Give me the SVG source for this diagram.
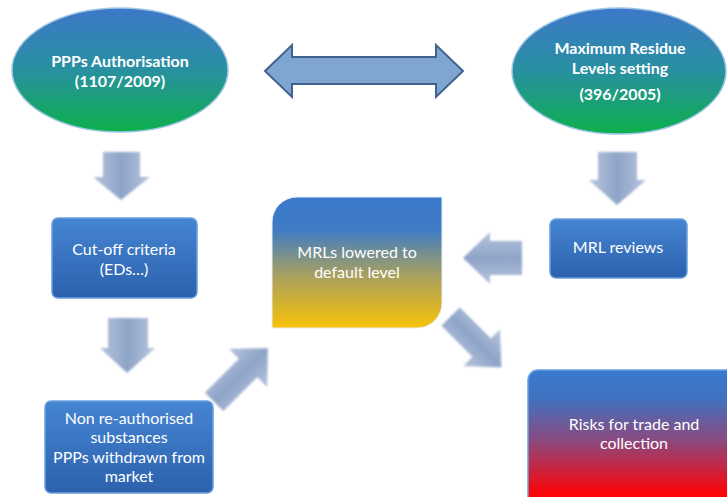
<svg xmlns="http://www.w3.org/2000/svg" width="727" height="497" viewBox="0 0 727 497">
<defs>
<linearGradient id="gEll" x1="0" y1="0" x2="0" y2="1">
<stop offset="0" stop-color="#3d78c9"/><stop offset="0.5" stop-color="#2890a0"/><stop offset="1" stop-color="#0db04c"/>
</linearGradient>
<linearGradient id="gBox" x1="0" y1="0" x2="0" y2="1">
<stop offset="0" stop-color="#4585d2"/><stop offset="1" stop-color="#2c61ad"/>
</linearGradient>
<linearGradient id="gMrl" x1="0" y1="0" x2="0" y2="1">
<stop offset="0" stop-color="#3a78cc"/><stop offset="0.25" stop-color="#3f7cc4"/><stop offset="0.6" stop-color="#a8a060"/><stop offset="1" stop-color="#f8c208"/>
</linearGradient>
<linearGradient id="gRisk" x1="0" y1="0" x2="0" y2="1">
<stop offset="0" stop-color="#3a7ad0"/><stop offset="0.2" stop-color="#3f72c0"/><stop offset="0.5" stop-color="#8a4a80"/><stop offset="0.88" stop-color="#fc0408"/><stop offset="1" stop-color="#ff0000"/>
</linearGradient>
<linearGradient id="gArr" x1="0" y1="0" x2="1" y2="0">
<stop offset="0" stop-color="#b8c4dc"/><stop offset="0.5" stop-color="#8ea4c8"/><stop offset="1" stop-color="#b8c4dc"/>
</linearGradient>
<linearGradient id="gArrV" x1="0" y1="0" x2="0" y2="1">
<stop offset="0" stop-color="#b8c4dc"/><stop offset="0.5" stop-color="#8ea4c8"/><stop offset="1" stop-color="#b8c4dc"/>
</linearGradient>
<filter id="soft" x="-20%" y="-20%" width="140%" height="140%"><feGaussianBlur stdDeviation="0.8"/></filter>
</defs>
<style>
.t{font-family:"Lato","Liberation Sans",sans-serif;fill:#ffffff;text-anchor:middle}
.b{font-weight:bold;font-size:16px}
.r{font-size:16px}
.ell{fill:url(#gEll);stroke:#9cc4e4;stroke-width:1.5}
.box{fill:url(#gBox);stroke:#6aa0e0;stroke-width:1.5}
.fz{fill:url(#gArr);filter:url(#soft)}
.fzv{fill:url(#gArrV);filter:url(#soft)}
</style>

<g id="connectors">
<polygon points="265,71 292,45 292,57 436,57 436,45 463,71 436,97 436,84 292,84 292,97" fill="#7fa6d1" stroke="#41628e" stroke-width="2"/>
<polygon class="fz" points="103,152 140,152 140,177 150,177 121,200 93,177 103,177"/>
<polygon class="fz" points="108,318 148,318 148,348 155,348 127,373 100,348 108,348"/>
<polygon class="fz" points="598,152 637,152 637,180 646,180 617,205 589,180 598,180"/>
<polygon class="fzv" points="463,258 490,232 490,241 522,241 522,275 490,275 490,284"/>
<polygon class="fzv" transform="translate(241,375) rotate(-45)" points="-38,-13 10,-13 10,-27 38,0 10,27 10,13 -38,13"/>
<polygon class="fzv" transform="translate(476,342) rotate(45)" points="-36,-13 8,-13 8,-26 36,0 8,26 8,13 -36,13"/>
</g>

<g id="ppp">
<ellipse class="ell" cx="120" cy="70" rx="108" ry="62"/>
<text class="t b" x="120" y="67">PPPs Authorisation</text>
<text class="t b" x="120" y="87">(1107/2009)</text>
</g>

<g id="mrlset">
<ellipse class="ell" cx="619" cy="71" rx="107" ry="63"/>
<text class="t b" x="620" y="54">Maximum Residue</text>
<text class="t b" x="620" y="74">Levels setting</text>
<text class="t b" x="620" y="100">(396/2005)</text>
</g>

<g id="cutoff">
<rect class="box" x="52" y="218" width="145" height="80" rx="6"/>
<text class="t r" x="124" y="255">Cut-off criteria</text>
<text class="t r" x="124" y="275">(EDs…)</text>
</g>

<g id="nonreauth">
<rect class="box" x="45" y="401" width="168" height="92" rx="6"/>
<text class="t r" x="129" y="424">Non re-authorised</text>
<text class="t r" x="129" y="443">substances</text>
<text class="t r" x="129" y="463">PPPs withdrawn from</text>
<text class="t r" x="129" y="482">market</text>
</g>

<g id="mrllow">
<path d="M297,197 H442 V303 A25,25 0 0 1 417,328 H272 V222 A25,25 0 0 1 297,197 Z" fill="url(#gMrl)" stroke="#e8eef8" stroke-width="1"/>
<text class="t r" x="357" y="258">MRLs lowered to</text>
<text class="t r" x="357" y="278">default level</text>
</g>

<g id="mrlrev">
<rect class="box" x="550" y="219" width="137" height="59" rx="6"/>
<text class="t r" x="618" y="253">MRL reviews</text>
</g>

<g id="risks">
<rect class="box" x="528" y="370" width="210" height="140" rx="10" style="fill:url(#gRisk)"/>
<text class="t r" x="634" y="430">Risks for trade and</text>
<text class="t r" x="634" y="449">collection</text>
</g>
</svg>
